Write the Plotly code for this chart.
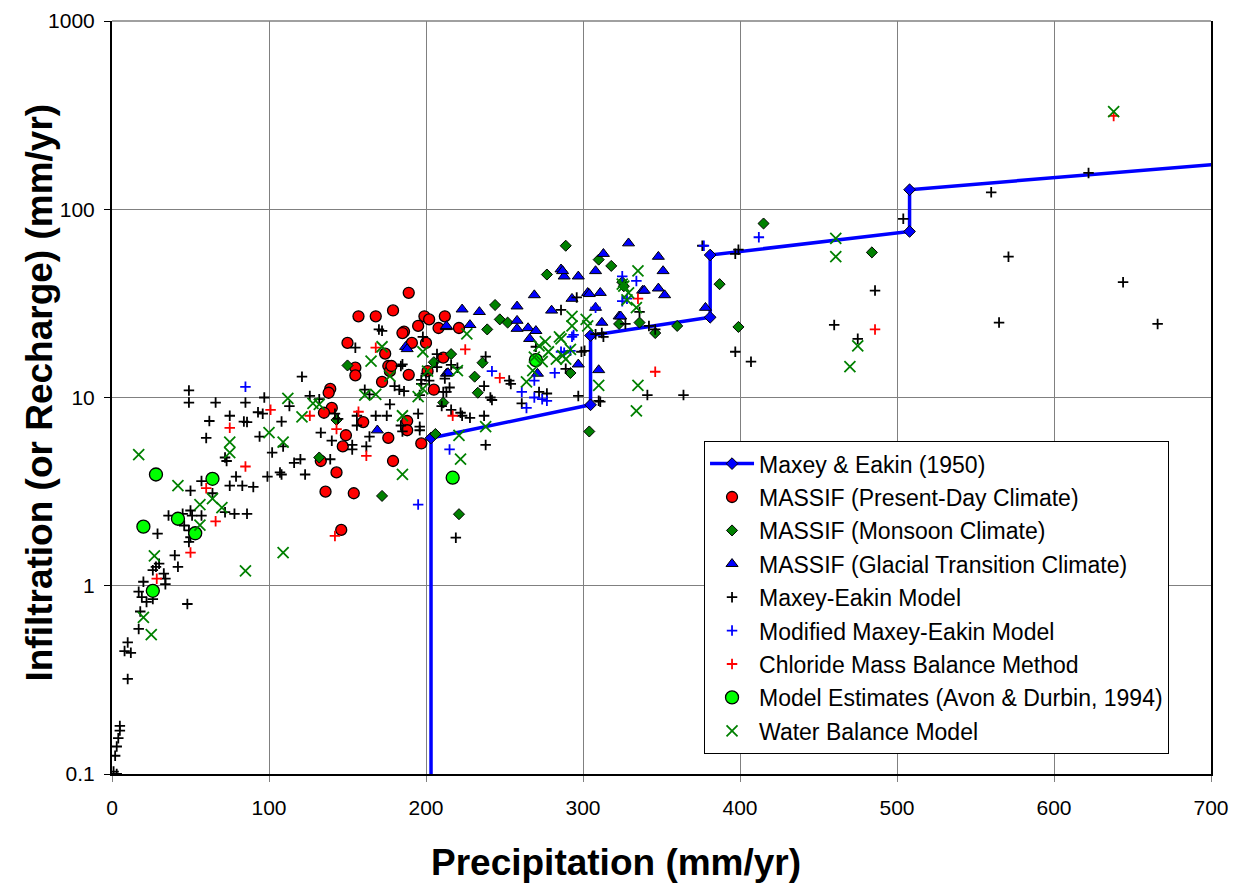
import plotly.graph_objects as go

# ---------------- data ----------------
# Maxey & Eakin (1950) step relation: vertices (diamonds)
me1950_x = [203.2, 304.8, 304.8, 381.0, 381.0, 508.0, 508.0]
me1950_y = [6.096, 9.144, 21.34, 26.67, 57.15, 76.2, 127.0]
# continuation of the same relation beyond the vertices (no markers)
me1950_low_x = [203.2, 203.2]
me1950_low_y = [0.01, 6.096]
me1950_high_x = [508.0, 762.0]
me1950_high_y = [127.0, 190.5]

# MASSIF (Present-Day Climate)
present_x = [189, 157, 168, 179, 199, 202, 212, 186, 195, 208, 221, 150, 191, 200, 174, 211,
             155, 155, 176, 177, 189, 172, 139, 138, 205, 140, 135, 160, 188, 188, 149, 147,
             176, 197, 133, 143, 179, 136, 154, 146, 185, 201, 178]
present_y = [36, 27, 27, 29, 27, 26, 27, 22.4, 24, 23.4, 23.4, 19.5, 19.5, 19.5, 17.1, 16.3,
             14.4, 13.1, 14.7, 13.8, 13.2, 12.1, 11.1, 10.6, 11.0, 8.8, 8.3, 7.4, 7.5, 6.7, 6.3, 5.5,
             6.1, 5.7, 4.6, 4.0, 4.6, 3.16, 3.1, 1.98, 22.0, 13.8, 14.7]

# MASSIF (Monsoon Climate)
monsoon_x = [150, 205, 211, 143, 132, 172, 206, 289, 277, 244, 247, 252, 239, 216, 236, 231,
             233, 292, 310, 318, 325, 326, 387, 323, 336, 346, 360, 399, 304, 221, 415, 484]
monsoon_y = [14.8, 15.4, 9.4, 7.6, 4.8, 3.0, 6.4, 64, 45, 31, 26, 25, 23, 17, 15.3, 12.9,
             10.6, 13.5, 54, 50, 41, 39, 40, 24.6, 25, 22, 24, 23.7, 6.6, 2.4, 84, 59]

# MASSIF (Glacial Transition Climate)
glacial_x = [187, 188, 213, 213, 169, 329, 313, 286, 288, 297, 308, 269, 293, 303, 311, 338,
             223, 234, 258, 280, 258, 213, 228, 258, 265, 270, 308, 312, 266, 214, 297, 310,
             271, 323, 348, 351, 348, 352, 339, 287, 304, 324, 378]
glacial_y = [18.6, 18.1, 23.7, 13.4, 6.7, 66, 58, 48, 44, 44, 47, 35, 33.5, 36, 36, 37,
             29.4, 28.5, 30.5, 29, 25.6, 24, 24.3, 23.2, 23.4, 22.6, 30, 25, 20.5, 13.5, 15, 14,
             13.4, 27, 56, 47, 38, 35, 37, 47, 35.5, 27, 30]

# Maxey-Eakin Model
mem_x = [49, 49, 66, 85, 97, 113, 75, 62, 84, 86, 93, 96, 108, 60, 94, 72, 73, 102, 109, 116,
         120, 99, 107, 108, 123, 79, 50, 57, 64, 75, 83, 90, 36, 45, 50, 51, 57, 72, 78, 86,
         46, 49, 50, 49, 29, 40, 42, 30, 28, 26, 33, 34, 34, 20, 17, 19, 22, 26, 48, 18, 17,
         10, 8, 12, 10, 5, 5, 4, 3, 2, 1, 3,
         170, 172, 155, 121, 184, 180, 183, 186, 198, 207, 200, 202, 126, 132, 133, 140, 153,
         153, 162, 139, 161, 164, 168, 175, 156, 156, 177, 195, 184, 185, 196, 164, 215, 213,
         142, 144, 185, 196, 197, 197, 211, 210, 216, 222, 223, 228, 196, 207, 216, 220, 212,
         238, 237, 241, 242, 237, 238, 253, 254, 272, 277, 261, 297, 310, 270, 286, 296, 301,
         308, 299, 289, 312, 313, 327, 336, 342, 346, 311, 341, 364, 397, 399, 397, 407, 376,
         460, 475, 486, 504, 560, 622, 571, 565, 644, 666, 219]
mem_y = [10.9, 9.4, 9.4, 9.4, 10.0, 9.0, 8.0, 7.5, 7.45, 7.4, 8.35, 8.2, 7.45, 6.1, 6.2, 4.8,
         4.6, 5.1, 5.5, 4.5, 4.7, 3.8, 4.0, 3.9, 3.9, 3.8, 3.2, 3.6, 3.1, 3.4, 3.4, 3.35, 2.36,
         2.41, 2.51, 2.36, 2.36, 2.46, 2.41, 2.41, 2.09, 1.97, 1.81, 1.71, 1.89, 1.45, 1.26, 1.31,
         1.26, 1.21, 1.16, 1.09, 1.02, 1.05, 0.93, 0.87, 0.82, 0.85, 0.8, 0.73, 0.59,
         0.5, 0.45, 0.44, 0.32, 0.18, 0.17, 0.155, 0.14, 0.125, 0.103, 0.1,
         23, 22.6, 18.4, 12.9, 14.7, 11.5, 11.0, 10.8, 21, 17, 13.4, 12.3, 10.2, 9.8, 6.5, 5.9,
         5.6, 5.3, 5.5, 4.7, 11.0, 10.4, 8.0, 8.0, 8.0, 7.1, 9.2, 8.2, 7.1, 6.6, 7.0, 6.2, 11.3,
         10.7, 8.2, 7.7, 15.0, 10.3, 12.4, 11.8, 10.7, 9.0, 8.6, 8.3, 8.0, 7.8, 6.7, 14.5, 14.9,
         14.4, 12.6, 16.5, 11.5, 10.0, 9.7, 8.0, 5.6, 12.3, 11.8, 10.7, 10.5, 9.3, 10.2, 9.6,
         18.6, 29.2, 34, 17.7, 21.7, 17.5, 14.2, 22, 21, 24.6, 28.5, 24, 23, 9.5, 10.3, 10.3,
         58, 61, 17.5, 15.5, 64, 24.3, 20.5, 37, 89, 123, 156, 56, 25, 41, 24.6, 1.8]

# Modified Maxey-Eakin Model
mod_x = [85, 195, 215, 242, 261, 264, 269, 274, 277, 282, 269, 293, 294, 292, 286, 288, 308,
         325, 334, 328, 325, 377, 412]
mod_y = [11.4, 2.7, 5.3, 13.8, 10.7, 8.8, 10.0, 9.8, 9.6, 13.5, 12.3, 21, 21.5, 17.7, 17.5,
         17.3, 30, 44, 41.6, 33.5, 32.5, 64, 71]

# Chloride Mass Balance Method
cmb_x = [101, 75, 85, 60, 66, 50, 28.5, 126, 168, 157, 143, 162, 142, 225, 247, 217, 335,
         346, 486, 638]
cmb_y = [8.6, 6.9, 4.3, 3.3, 2.2, 1.5, 1.09, 8.0, 18.4, 8.4, 6.8, 4.9, 1.84, 18, 12.7, 8.0,
         33.5, 13.7, 23, 313]

# Model Estimates (Avon & Durbin, 1994)
avon_x = [28, 64, 42, 20, 53, 26, 270, 217]
avon_y = [3.9, 3.7, 2.27, 2.06, 1.9, 0.94, 15.8, 3.75]

# Water Balance Model
wb_x = [17, 112, 121, 100, 109, 75, 75, 42, 56, 64, 70, 56, 27, 85, 109, 20, 25,
        128, 132, 165, 172, 177, 161, 168, 185, 185, 198, 201, 198, 195,
        226, 220, 221, 238, 222, 264, 269, 272, 276, 278, 283, 285, 268, 274, 287, 293, 302,
        310, 335, 334, 335, 325, 329, 326, 328, 334, 293, 303, 286, 292, 289,
        461, 461, 475, 470, 638]
wb_y = [4.97, 9.9, 7.9, 6.5, 5.8, 5.8, 5.1, 3.4, 2.7, 2.9, 2.6, 2.1, 1.44, 1.2, 1.5, 0.68, 0.55,
        9.3, 9.2, 15.6, 18.6, 13.0, 10.3, 10.4, 8.0, 3.9, 17.5, 13.8, 11.1, 10.1,
        21.8, 13.9, 6.3, 7.0, 4.7, 12.1, 16.4, 18.8, 19.8, 17.5, 16.0, 21, 13.9, 15.5, 16.7, 27, 26,
        11.6, 11.6, 8.5, 47, 40, 36, 39, 33, 30, 24, 24, 20.5, 18, 16,
        70, 56, 18.8, 14.6, 330]

x_ticks = [0, 100, 200, 300, 400, 500, 600, 700]
y_ticks = [0.1, 1, 10, 100, 1000]
y_ticktext = ["0.1", "1", "10", "100", "1000"]

x_title = "Precipitation (mm/yr)"
y_title = "Infiltration (or Recharge) (mm/yr)"

FONT = "Liberation Sans, Arial, sans-serif"
BLUE = "#0000FF"
RED = "#FF0000"
DKGREEN = "#008000"
LIME = "#00FF00"

fig = go.Figure()

# Maxey & Eakin (1950) line
fig.add_trace(go.Scatter(x=me1950_low_x, y=me1950_low_y, mode="lines",
                         line=dict(color=BLUE, width=3.5), showlegend=False, hoverinfo="skip"))
fig.add_trace(go.Scatter(x=me1950_high_x, y=me1950_high_y, mode="lines",
                         line=dict(color=BLUE, width=3.5), showlegend=False, hoverinfo="skip"))
fig.add_trace(go.Scatter(x=me1950_x, y=me1950_y, mode="lines+markers", name="Maxey & Eakin (1950)",
                         line=dict(color=BLUE, width=3.5),
                         marker=dict(symbol="diamond", size=9, color=BLUE,
                                     line=dict(color="black", width=1)),
                         legendgroup="g1"))

fig.add_trace(go.Scatter(x=present_x, y=present_y, mode="markers",
                         name="MASSIF (Present-Day Climate)",
                         marker=dict(symbol="circle", size=11, color=RED,
                                     line=dict(color="black", width=1.3)), legendgroup="g2"))
fig.add_trace(go.Scatter(x=monsoon_x, y=monsoon_y, mode="markers",
                         name="MASSIF (Monsoon Climate)",
                         marker=dict(symbol="diamond", size=8.5, color=DKGREEN,
                                     line=dict(color="black", width=1)), legendgroup="g3"))
fig.add_trace(go.Scatter(x=glacial_x, y=glacial_y, mode="markers",
                         name="MASSIF (Glacial Transition Climate)",
                         marker=dict(symbol="triangle-up", size=10.5, color=BLUE,
                                     line=dict(color="black", width=1)), legendgroup="g4"))
fig.add_trace(go.Scatter(x=mem_x, y=mem_y, mode="markers", name="Maxey-Eakin Model",
                         marker=dict(symbol="cross-thin", size=7.5,
                                     line=dict(color="black", width=1.8)), legendgroup="g5"))
fig.add_trace(go.Scatter(x=mod_x, y=mod_y, mode="markers", name="Modified Maxey-Eakin Model",
                         marker=dict(symbol="cross-thin", size=7.5,
                                     line=dict(color=BLUE, width=1.8)), legendgroup="g6"))
fig.add_trace(go.Scatter(x=cmb_x, y=cmb_y, mode="markers", name="Chloride Mass Balance Method",
                         marker=dict(symbol="cross-thin", size=7.5,
                                     line=dict(color=RED, width=1.8)), legendgroup="g7"))
fig.add_trace(go.Scatter(x=avon_x, y=avon_y, mode="markers",
                         name="Model Estimates (Avon & Durbin, 1994)",
                         marker=dict(symbol="circle", size=13, color=LIME,
                                     line=dict(color="black", width=1.3)), legendgroup="g8"))
fig.add_trace(go.Scatter(x=wb_x, y=wb_y, mode="markers", name="Water Balance Model",
                         marker=dict(symbol="x-thin", size=11,
                                     line=dict(color=DKGREEN, width=1.8)), legendgroup="g9"))

fig.update_layout(
    width=1233, height=887,
    margin=dict(l=112, r=22, t=21, b=113),
    paper_bgcolor="white", plot_bgcolor="white",
    font=dict(family=FONT, color="black", size=21),
    legend=dict(x=0.5387, y=0.442, xanchor="left", yanchor="top",
                bgcolor="white", bordercolor="black", borderwidth=1,
                font=dict(family=FONT, size=23, color="black"),
                tracegroupgap=0.5, itemwidth=44),
    xaxis=dict(range=[0, 700], tickvals=x_ticks, ticks="outside", ticklen=6,
               tickcolor="#808080", showgrid=True, gridcolor="#808080", gridwidth=1,
               showline=True, linecolor="black", linewidth=2, mirror=False, zeroline=False,
               tickfont=dict(size=21), ticklabelstandoff=8, automargin=False),
    yaxis=dict(type="log", range=[-1, 3], tickvals=y_ticks, ticktext=y_ticktext,
               ticks="outside", ticklen=6, tickcolor="black",
               showgrid=True, gridcolor="#808080", gridwidth=1,
               showline=True, linecolor="black", linewidth=2, mirror=True, zeroline=False,
               tickfont=dict(size=21), ticklabelstandoff=5, automargin=False),
    shapes=[dict(type="line", xref="x domain", yref="y domain", x0=0, x1=1, y0=1, y1=1,
                 line=dict(color="#808080", width=1.5))],
    annotations=[
        dict(text="<b>" + x_title + "</b>", xref="paper", yref="paper", x=0.4586, y=-0.1169,
             xanchor="center", yanchor="middle", showarrow=False, font=dict(size=37)),
        dict(text="<b>" + y_title + "</b>", xref="paper", yref="paper", x=-0.0655, y=0.5066,
             xanchor="center", yanchor="middle", textangle=-90, showarrow=False,
             font=dict(size=37)),
    ],
)

fig.write_html("out.html")
